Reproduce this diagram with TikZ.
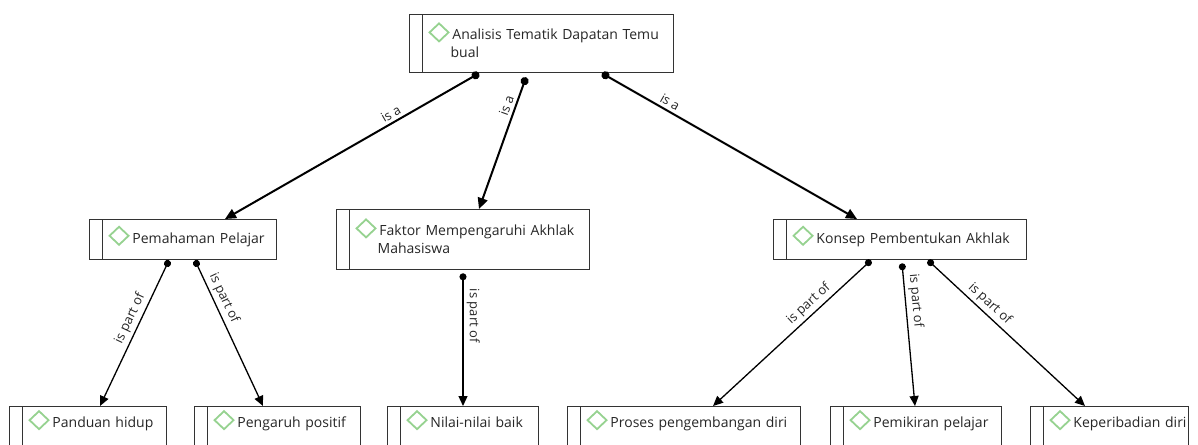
\documentclass[tikz,border=0pt]{standalone}
\usepackage{fontspec}
\setmainfont{Open Sans}
\usepackage{tikz}
\usetikzlibrary{arrows.meta,positioning}
\definecolor{boxgray}{HTML}{333333}
\definecolor{textgray}{HTML}{262626}
\definecolor{gemgreen}{HTML}{96D290}
\newcommand{\gem}{\smash{\tikz[baseline=0pt]\draw[gemgreen,line width=1.8pt] (0pt,7.5pt) -- (9.5pt,16.5pt) -- (19pt,7.5pt) -- (9.5pt,-1.5pt) -- cycle;}}
\newcommand{\gemtext}[1]{\kern17pt\gem\kern3pt\mbox{#1}}

\begin{document}
\begin{tikzpicture}[x=1pt,y=-1pt,
	  concept/.style = {shape=rectangle, draw=boxgray, line width=1.3pt,
	    anchor=north west, align=left, inner xsep=2pt, inner ysep=0pt,
	    text=textgray, font=\fontsize{14}{18}\selectfont,
	    path picture={\draw[boxgray, line width=1.3pt]
	      ([xshift=13pt]path picture bounding box.north west) --
	      ([xshift=13pt]path picture bounding box.south west);}},
	  leaf/.style = {concept, minimum height=40pt, text height=9pt, text depth=7pt},
	  isa/.style = {line width=2pt, {Circle[length=8pt]}-{Triangle[length=11pt,width=10pt]}},
	  partof/.style = {line width=1.3pt, {Circle[length=7pt]}-{Triangle[length=10pt,width=9pt]}},
	  lbl/.style = {sloped, above, inner sep=3pt, text=textgray, font=\fontsize{13}{15}\selectfont}]
	  \useasboundingbox (0,0) rectangle (1198,444);
	  \clip (0,0) rectangle (1198,444);
	  \node[concept, text width=260pt, minimum height=58pt] (root) at (409,14)
	    {\gemtext{Analisis Tematik Dapatan Temu}\\\hspace*{39pt}bual};
	  \node[concept, text width=183pt, minimum height=40pt] (pemahaman) at (89,219)
	    {\gemtext{Pemahaman Pelajar}};
	  \node[concept, text width=249pt, minimum height=60pt] (faktor) at (336,209)
	    {\gemtext{Faktor Mempengaruhi Akhlak}\\\hspace*{39pt}Mahasiswa};
	  \node[concept, text width=249pt, minimum height=40pt] (konsep) at (773,219)
	    {\gemtext{Konsep Pembentukan Akhlak}};
	  \node[leaf, text width=153pt] (panduan) at (9,406) {\gemtext{Panduan hidup}};
	  \node[leaf, text width=162pt] (pengaruh) at (194,406) {\gemtext{Pengaruh positif}};
	  \node[leaf, text width=147pt] (nilai) at (387,406) {\gemtext{Nilai-nilai baik}};
	  \node[leaf, text width=229pt] (proses) at (567,406) {\gemtext{Proses pengembangan diri}};
	  \node[leaf, text width=167pt] (pemikiran) at (830,406) {\gemtext{Pemikiran pelajar}};
	  \node[leaf, text width=154pt] (keperibadian) at (1030,406) {\gemtext{Keperibadian diri}};

	  \draw[isa] ([xshift=70pt]root.south west) -- node[lbl, pos=0.33] {is a} ([xshift=136pt]pemahaman.north west);
	  \draw[isa] ([xshift=117pt,yshift=-4pt]root.south west) -- node[lbl, pos=0.24] {is a} ([xshift=143pt]faktor.north west);
	  \draw[isa] ([xshift=193pt]root.south west) -- node[lbl, pos=0.25] {is a} ([xshift=84pt]konsep.north west);

	  \draw[partof] ([xshift=80pt]pemahaman.south west) -- node[lbl, pos=0.43] {is part of} ([xshift=91pt]panduan.north west);
	  \draw[partof] ([xshift=106pt]pemahaman.south west) -- node[lbl, pos=0.29] {is part of} ([xshift=69pt]pengaruh.north west);
	  \draw[partof] ([xshift=127pt,yshift=-3pt]faktor.south west) -- node[lbl, pos=0.32] {is part of} ([xshift=76pt]nilai.north west);
	  \draw[partof] ([xshift=98pt]konsep.south west) -- node[lbl, pos=0.35] {is part of} ([xshift=146pt]proses.north west);
	  \draw[partof] ([xshift=129pt,yshift=-3pt]konsep.south west) -- node[lbl, pos=0.27] {is part of} ([xshift=85pt]pemikiran.north west);
	  \draw[partof] ([xshift=155pt]konsep.south west) -- node[lbl, pos=0.35] {is part of} ([xshift=55pt]keperibadian.north west);
	\end{tikzpicture}
\end{document}
